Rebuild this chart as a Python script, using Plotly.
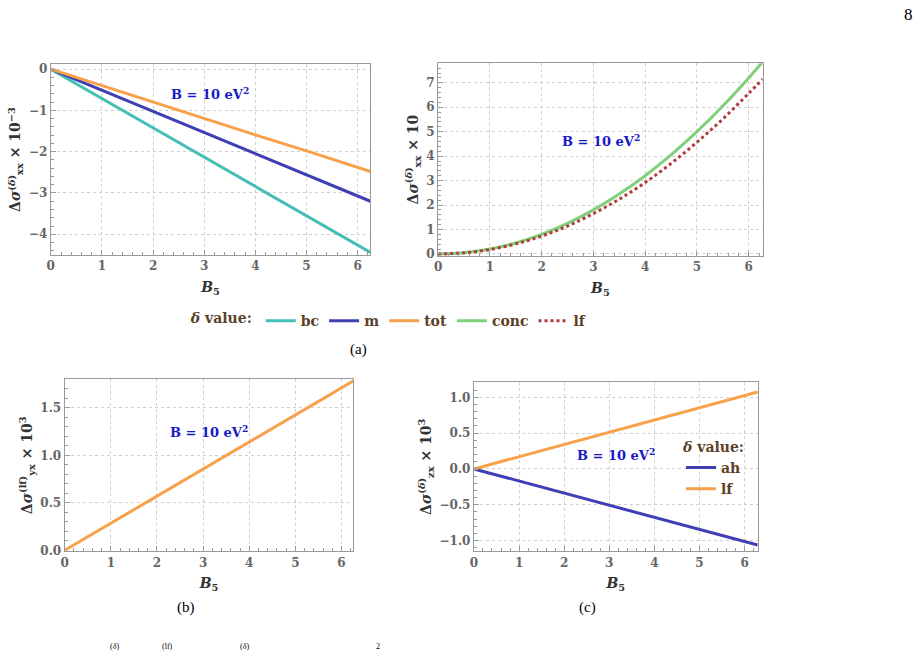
import plotly.graph_objects as go

W, H = 918, 659

# ---------------- data ----------------
xa = [0, 1, 2, 3, 4, 5, 6, 6.25]
bc = [0, -0.71, -1.42, -2.13, -2.84, -3.55, -4.26, -4.44]
m_ = [0, -0.51, -1.02, -1.54, -2.05, -2.56, -3.07, -3.20]
tot = [0, -0.40, -0.79, -1.19, -1.59, -1.98, -2.38, -2.48]

xq = [0, 0.5, 1, 1.5, 2, 2.5, 3, 3.5, 4, 4.5, 5, 5.5, 6, 6.27]
conc = [0, 0.05, 0.2, 0.45, 0.8, 1.25, 1.8, 2.45, 3.2, 4.05, 5.0, 6.05, 7.2, 7.86]
lf_a = [0, 0.045, 0.18, 0.41, 0.73, 1.14, 1.65, 2.24, 2.92, 3.70, 4.57, 5.52, 6.57, 7.15]

xb = [0, 1, 2, 3, 4, 5, 6, 6.26]
lf_b = [0, 0.285, 0.57, 0.855, 1.14, 1.425, 1.71, 1.785]

xc = [0, 1, 2, 3, 4, 5, 6, 6.29]
lf_c = [0, 0.171, 0.342, 0.513, 0.684, 0.855, 1.026, 1.075]
ah_c = [0, -0.169, -0.338, -0.507, -0.676, -0.845, -1.014, -1.063]

C_BC = "#45BFB6"
C_M = "#3F3FB5"
C_TOT = "#F9A04A"
C_CONC = "#80CF7A"
C_LF = "#B33A3A"
BROWN = "#5E3F28"
ANN_BLUE = "#1919C8"

SERIF = "'DejaVu Serif', 'Liberation Serif', serif"
SERIF2 = "'Liberation Serif', 'DejaVu Serif', serif"


def px_dom_x(a, b):
    return [a / W, b / W]


def px_dom_y(top, bot):
    return [1 - bot / H, 1 - top / H]


fig = go.Figure()

lw = 3
fig.add_trace(go.Scatter(x=xa, y=bc, mode="lines", name="<b>bc</b>", line=dict(color=C_BC, width=lw), xaxis="x", yaxis="y"))
fig.add_trace(go.Scatter(x=xa, y=m_, mode="lines", name="<b>m</b>", line=dict(color=C_M, width=lw), xaxis="x", yaxis="y"))
fig.add_trace(go.Scatter(x=xa, y=tot, mode="lines", name="<b>tot</b>", line=dict(color=C_TOT, width=lw), xaxis="x", yaxis="y"))
fig.add_trace(go.Scatter(x=xq, y=conc, mode="lines", name="<b>conc</b>", line=dict(color=C_CONC, width=lw, shape="spline"), xaxis="x2", yaxis="y2"))
fig.add_trace(go.Scatter(x=xq, y=lf_a, mode="lines", name="<b>lf</b>", line=dict(color=C_LF, width=lw, dash="dot", shape="spline"), xaxis="x2", yaxis="y2"))
fig.add_trace(go.Scatter(x=xb, y=lf_b, mode="lines", showlegend=False, line=dict(color=C_TOT, width=lw), xaxis="x3", yaxis="y3"))
fig.add_trace(go.Scatter(x=xc, y=ah_c, mode="lines", name="<b>ah</b>", legend="legend2", line=dict(color=C_M, width=lw), xaxis="x4", yaxis="y4"))
fig.add_trace(go.Scatter(x=xc, y=lf_c, mode="lines", name="<b>lf</b>", legend="legend2", line=dict(color=C_TOT, width=lw), xaxis="x4", yaxis="y4"))

tickfont = dict(family=SERIF, size=12, color="#666666", weight="bold")
titlefont = dict(family=SERIF, size=14, color="#333333")


def axis(dom, rng, dtick, minor, anchor, title=None, fmt=None, standoff=None):
    d = dict(
        domain=dom, range=rng, dtick=dtick, tick0=0, anchor=anchor,
        showline=True, linecolor="#999999", linewidth=1.2, mirror=True,
        ticks="inside", ticklen=5, tickcolor="#999999", tickwidth=1,
        showgrid=True, gridcolor="#cfcfcf", griddash="dot", gridwidth=1,
        zeroline=False, tickfont=tickfont,
        minor=dict(ticks="inside", ticklen=3, dtick=minor, tickcolor="#999999", showgrid=False),
    )
    if title:
        d["title"] = dict(text=title, font=titlefont, standoff=standoff if standoff is not None else 9)
    if fmt:
        d["tickformat"] = fmt
    return d


xtitle = "<b><i>B</i><sub>5</sub></b>"

layout = dict(
    width=W, height=H, autosize=False,
    margin=dict(l=0, r=0, t=0, b=0),
    paper_bgcolor="white", plot_bgcolor="white",
    font=dict(family=SERIF),
    xaxis=axis(px_dom_x(47, 368), [0, 6.25], 1, 0.2, "y", xtitle),
    yaxis=axis(px_dom_y(63, 256), [-4.5, 0.12], 1, 0.2, "x",
               "<b>Δ<i>σ</i><sup>(<i>δ</i>)</sup><sub>xx</sub> × 10<sup>−3</sup></b>", standoff=4),
    xaxis2=axis(px_dom_x(436, 762), [0, 6.27], 1, 0.2, "y2", xtitle),
    yaxis2=axis(px_dom_y(62, 257), [-0.08, 7.8], 1, 0.2, "x2",
                "<b>Δ<i>σ</i><sup>(<i>δ</i>)</sup><sub>xx</sub> × 10</b>", standoff=4),
    xaxis3=axis(px_dom_x(61, 351), [0, 6.26], 1, 0.2, "y3", xtitle),
    yaxis3=axis(px_dom_y(382, 556), [-0.01, 1.80], 0.5, 0.1, "x3",
                "<b>Δ<i>σ</i><sup>(lf)</sup><sub>yx</sub> × 10<sup>3</sup></b>", fmt=".1f", standoff=4),
    xaxis4=axis(px_dom_x(472, 757), [0, 6.29], 1, 0.2, "y4", xtitle),
    yaxis4=axis(px_dom_y(385, 556), [-1.15, 1.21], 0.5, 0.1, "x4",
                "<b>Δ<i>σ</i><sup>(<i>δ</i>)</sup><sub>zx</sub> × 10<sup>3</sup></b>", fmt=".1f", standoff=4),
    legend=dict(
        orientation="h", x=388 / W, y=1 - 323 / H, xanchor="center", yanchor="middle",
        title=dict(text="<b><i>δ</i> value:</b>", font=dict(family=SERIF, size=14, color=BROWN), side="left"),
        font=dict(family=SERIF, size=14, color=BROWN), bgcolor="rgba(0,0,0,0)",
        itemwidth=30,
    ),
    legend2=dict(
        orientation="v", x=680 / W, y=1 - 437 / H, xanchor="left", yanchor="top",
        title=dict(text="<b><i>δ</i> value:</b>", font=dict(family=SERIF, size=14, color=BROWN)),
        font=dict(family=SERIF, size=14, color=BROWN), bgcolor="rgba(0,0,0,0)",
        itemwidth=30, tracegroupgap=4,
    ),
)
fig.update_layout(**layout)

ann = []


def add_ann(text, xp, yp, size=15, color="black", xanchor="center", yanchor="middle", family=SERIF):
    ann.append(dict(text=text, x=xp / W, y=1 - yp / H, xref="paper", yref="paper",
                    showarrow=False, xanchor=xanchor, yanchor=yanchor,
                    font=dict(family=family, size=size, color=color)))


bstr = "<b>B = 10 eV<sup>2</sup></b>"
add_ann(bstr, 207, 93, size=13, color=ANN_BLUE)
add_ann(bstr, 600, 140, size=13, color=ANN_BLUE)
add_ann(bstr, 206, 435, size=13, color=ANN_BLUE)
add_ann(bstr, 615, 458, size=13, color=ANN_BLUE)
add_ann("(a)", 356, 352, size=15, family=SERIF2)
add_ann("(b)", 183, 613, size=15, family=SERIF2)
add_ann("(c)", 586, 613, size=15, family=SERIF2)
add_ann("8", 908, 13, size=17, family=SERIF2)
# caption superscripts at the bottom edge
for t, xp in [("(<i>δ</i>)", 111), ("(lf)", 164), ("(<i>δ</i>)", 242), ("2", 376)]:
    add_ann(t, xp, 659, size=8, yanchor="bottom", family=SERIF2)

fig.update_layout(annotations=ann)
fig.write_html("out.html")
